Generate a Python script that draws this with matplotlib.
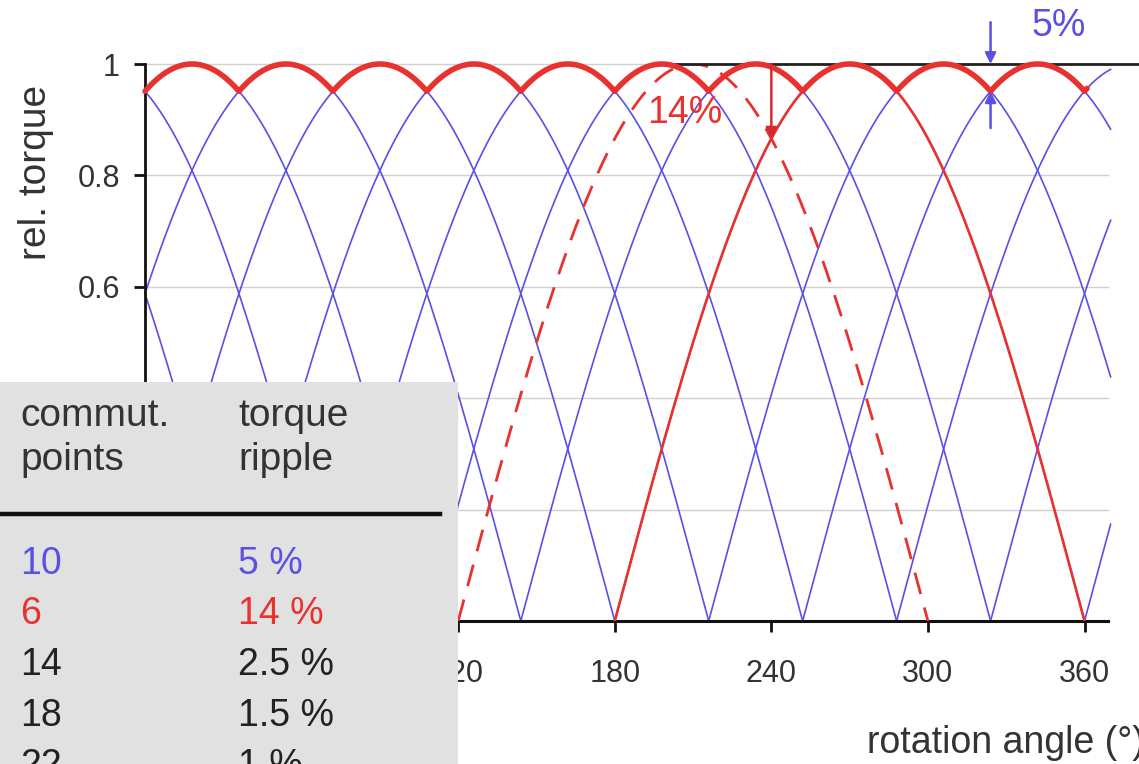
import numpy as np
import matplotlib
matplotlib.use("Agg")
import matplotlib.pyplot as plt
from matplotlib.patches import Rectangle
from matplotlib.lines import Line2D

plt.rcParams['font.family'] = ['Liberation Sans', 'DejaVu Sans']

# ---- data ----
blue_lobe_starts = [-180, -144, -108, -72, -36, 0, 36, 72, 108, 144, 180, 216, 252, 288, 324, 360]  # 10 commutation points (36° spacing)
lobe_width = 180
red_solid_start = 180     # 6 commutation points lobe (solid)
red_dashed_start = 120    # neighbouring lobe (dashed)
ripple_6_level = 0.866
ripple_10_level = 0.951
x_ticks = [120, 180, 240, 300, 360]
y_ticks = [0.2, 0.4, 0.6, 0.8, 1.0]
y_ticklabels = ['', '', '0.6', '0.8', '1']   # 0.2 / 0.4 hidden behind the table
table_header = [("commut.\npoints", "torque\nripple")]
table_points = ["10", "6", "14", "18", "22"]
table_ripple = ["5 %", "14 %", "2.5 %", "1.5 %", "1 %"]
table_colors = ['#5a4fe6', '#e8322f', '#222222', '#222222', '#222222']

BLUE = '#5a4fe6'
RED = '#e8322f'

W, H = 1139, 764
fig = plt.figure(figsize=(W / 100, H / 100), dpi=100)
x0px, x1px = 145, 1108
y0px, y1px = 621, 64
ax = fig.add_axes([x0px / W, (H - y0px) / H, (x1px - x0px) / W, (y0px - y1px) / H])
ax.set_xlim(0, 369)
ax.set_ylim(0, 1)

theta_all = np.linspace(0, 370, 3701)

def lobe(start, lo=0, hi=370):
    a = max(start, lo)
    b = min(start + lobe_width, hi)
    t = np.linspace(a, b, 600)
    return t, np.sin(np.radians(t - start))

# grid
for yv in y_ticks:
    ax.plot([0, 369], [yv, yv], color='#d0d0d0', lw=1.0, zorder=1, clip_on=False)

# blue lobes
env = np.zeros_like(theta_all)
for s in blue_lobe_starts:
    if s + lobe_width <= 0 or s >= 370:
        continue
    t, y = lobe(s)
    ax.plot(t, y, color=BLUE, lw=1.2, zorder=2, clip_on=False)
    m = (theta_all >= s) & (theta_all <= s + lobe_width)
    env[m] = np.maximum(env[m], np.sin(np.radians(theta_all[m] - s)))

# red lobes
t, y = lobe(red_solid_start)
ax.plot(t, y, color=RED, lw=1.9, zorder=3)
t, y = lobe(red_dashed_start)
ax.plot(t, y, color=RED, lw=2.0, ls=(0, (8, 5)), zorder=3)

# black reference line at 1
ax.plot([200, 386], [1, 1], color='#222222', lw=2.0, zorder=3, clip_on=False)

# thick envelope
me = theta_all <= 361
ax.plot(theta_all[me], env[me], color=RED, lw=4.0, zorder=4, solid_capstyle='round', clip_on=False)

# annotations: 14%
ax.annotate('', xy=(240, ripple_6_level), xytext=(240, 1.0),
            arrowprops=dict(arrowstyle='-|>', color='#d42a2a', lw=1.8, mutation_scale=16,
                            shrinkA=0, shrinkB=0), zorder=5)
ax.text(207, 0.912, '14%', color=RED, fontsize=27, ha='center', va='center', zorder=6)

# 5%
ax.annotate('', xy=(324, 1.0), xytext=(324, 1.075),
            arrowprops=dict(arrowstyle='-|>', color=BLUE, lw=1.8, mutation_scale=16,
                            shrinkA=0, shrinkB=0), annotation_clip=False, zorder=5)
ax.annotate('', xy=(324, ripple_10_level), xytext=(324, 0.885),
            arrowprops=dict(arrowstyle='-|>', color=BLUE, lw=1.8, mutation_scale=16,
                            shrinkA=0, shrinkB=0), annotation_clip=False, zorder=5)
ax.text(350, 1.068, '5%', color=BLUE, fontsize=27, ha='center', va='center', zorder=6, clip_on=False)

# axes styling
for sp in ['top', 'right']:
    ax.spines[sp].set_visible(False)
ax.spines['left'].set_linewidth(2.0)
ax.spines['bottom'].set_linewidth(2.2)
ax.spines['left'].set_color('#111111')
ax.spines['bottom'].set_color('#111111')
ax.set_xticks(x_ticks)
ax.set_xticklabels([str(v) for v in x_ticks])
ax.set_yticks(y_ticks)
ax.set_yticklabels(y_ticklabels)
ax.tick_params(axis='both', direction='out', length=8, width=2, colors='#111111',
               labelsize=22, labelcolor='#333333')
ax.tick_params(axis='y', pad=10)
ax.tick_params(axis='x', pad=19)
fig.text(36 / W, (H - 172) / H, 'rel. torque', fontsize=28, color='#333333', rotation=90,
         ha='center', va='center')
fig.text(867 / W, (H - 743) / H, 'rotation angle (°)', fontsize=27, color='#333333',
         ha='left', va='center')

# table box
fig.patches.append(Rectangle((0, 0), 458 / W, (H - 382) / H, transform=fig.transFigure,
                             facecolor='#e1e1e1', edgecolor='none', zorder=10))
fig.lines.append(Line2D([0, 440 / W], [(H - 514) / H] * 2, transform=fig.transFigure,
                        color='#111111', lw=3.2, zorder=11))
hdr_pts, hdr_rip = table_header[0]
fig.text(20 / W, (H - 438) / H, hdr_pts, fontsize=28, color='#333333', ha='left', va='center',
         linespacing=1.3, zorder=12)
fig.text(238 / W, (H - 438) / H, hdr_rip, fontsize=28, color='#333333', ha='left', va='center',
         linespacing=1.3, zorder=12)
for i, (p, r, c) in enumerate(zip(table_points, table_ripple, table_colors)):
    yy = 564 + i * 50.5
    fig.text(20 / W, (H - yy) / H, p, fontsize=27, color=c, ha='left', va='center', zorder=12)
    fig.text(238 / W, (H - yy) / H, r, fontsize=27, color=c, ha='left', va='center', zorder=12)

fig.savefig('out.png', dpi=100)
